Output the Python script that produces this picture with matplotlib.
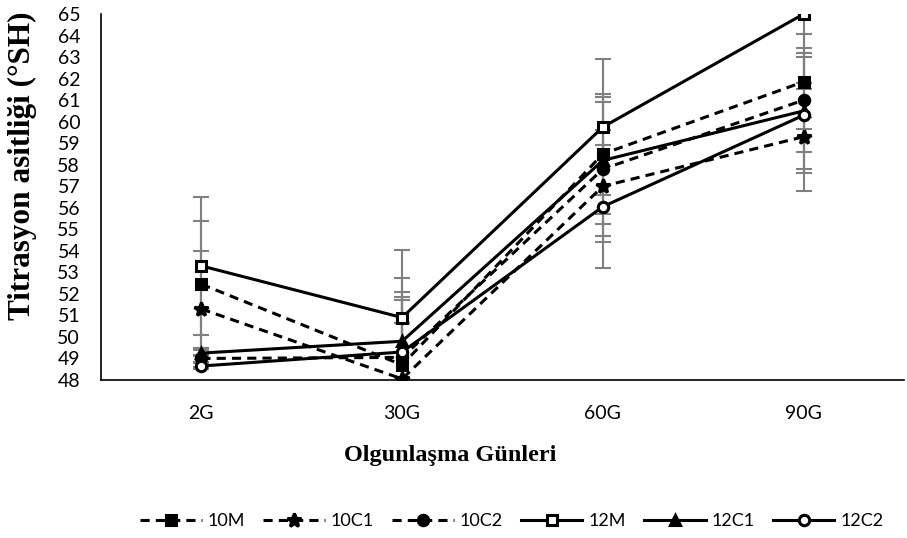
import numpy as np
import matplotlib
matplotlib.use("Agg")
import matplotlib.pyplot as plt

# gunler ve ornek gruplari
gunler = ["2G", "30G", "60G", "90G"]
seriler = ["10M", "10C1", "10C2", "12M", "12C1", "12C2"]

# ortalama titrasyon asitligi (°SH)
d_10M = [52.45, 48.7, 58.5, 61.85]
d_10C1 = [51.3, 48.05, 57.0, 59.3]
d_10C2 = [49.0, 49.05, 57.8, 61.0]
d_12M = [53.3, 50.9, 59.75, 65.0]
d_12C1 = [49.25, 49.8, 58.2, 60.5]
d_12C2 = [48.65, 49.3, 56.05, 60.3]

# standart sapmalar
s_10M = [2.95, 3.0, 2.8, 2.2]
s_10C1 = [2.7, 2.6, 2.6, 2.5]
s_10C2 = [0.15, 3.05, 3.1, 2.4]
s_12M = [3.2, 3.15, 3.15, 3.5]
s_12C1 = [0.15, 2.95, 2.95, 2.7]
s_12C2 = [0.15, 2.55, 2.85, 2.7]

ortalamalar = [d_10M, d_10C1, d_10C2, d_12M, d_12C1, d_12C2]
sapmalar = [s_10M, s_10C1, s_10C2, s_12M, s_12C1, s_12C2]

# stil: (cizgi, marker, dolu mu)
stiller = [
    ("--", "s", True),
    ("--", "*", True),
    ("--", "o", True),
    ("-", "s", False),
    ("-", "^", True),
    ("-", "o", False),
]

yazi = "Lato"

fig = plt.figure(figsize=(9.07, 5.38), dpi=100)
ax = fig.add_axes([101 / 907, 1 - 380 / 538, 803 / 907, 366 / 538])

x = np.arange(len(gunler))

for i, isim in enumerate(seriler):
    ax.errorbar(x, ortalamalar[i], yerr=sapmalar[i], fmt="none",
                ecolor="#808080", elinewidth=1.5, capsize=6, capthick=1.5,
                zorder=2)

for i, isim in enumerate(seriler):
    ls, mk, dolu = stiller[i]
    ms = 10 if mk == "*" else 7.5
    ax.plot(x, ortalamalar[i], linestyle=ls, color="black", linewidth=2.2,
            marker=mk, markersize=ms, markeredgewidth=2.2,
            markerfacecolor="black" if dolu else "white",
            markeredgecolor="black", label=isim, zorder=3 + i,
            dashes=(3.0, 2.0) if ls == "--" else (None, None))

ax.set_xlim(-0.5, 3.5)
ax.set_ylim(48, 65)
ax.set_yticks(np.arange(48, 66, 1))
ax.set_xticks(x)
ax.set_xticklabels(gunler)
ax.tick_params(axis="both", length=0, labelsize=14)
ax.tick_params(axis="x", pad=18)
ax.tick_params(axis="y", pad=15)
for t in ax.get_xticklabels() + ax.get_yticklabels():
    t.set_fontfamily(yazi)

for s in ["top", "right"]:
    ax.spines[s].set_visible(False)
for s in ["left", "bottom"]:
    ax.spines[s].set_linewidth(1.2)
    ax.spines[s].set_color("black")

# eksen basliklari
fig.text(450 / 907, 1 - 456 / 538, "Olgunlaşma Günleri", ha="center",
         va="center", fontfamily="Liberation Serif", fontweight="bold",
         fontsize=17.5)
fig.text(22 / 907, 1 - 166 / 538, "Titrasyon asitliği (°SH)", ha="center",
         va="center", rotation=90, fontfamily="Liberation Serif",
         fontweight="bold", fontsize=22.5)

fig.legend(loc="center", bbox_to_anchor=(512 / 907, 1 - 521 / 538),
           ncol=6, frameon=False, handlelength=3.4, columnspacing=1.0,
           handletextpad=0.35, prop={"family": yazi, "size": 13})

fig.savefig("out.png", dpi=100)
